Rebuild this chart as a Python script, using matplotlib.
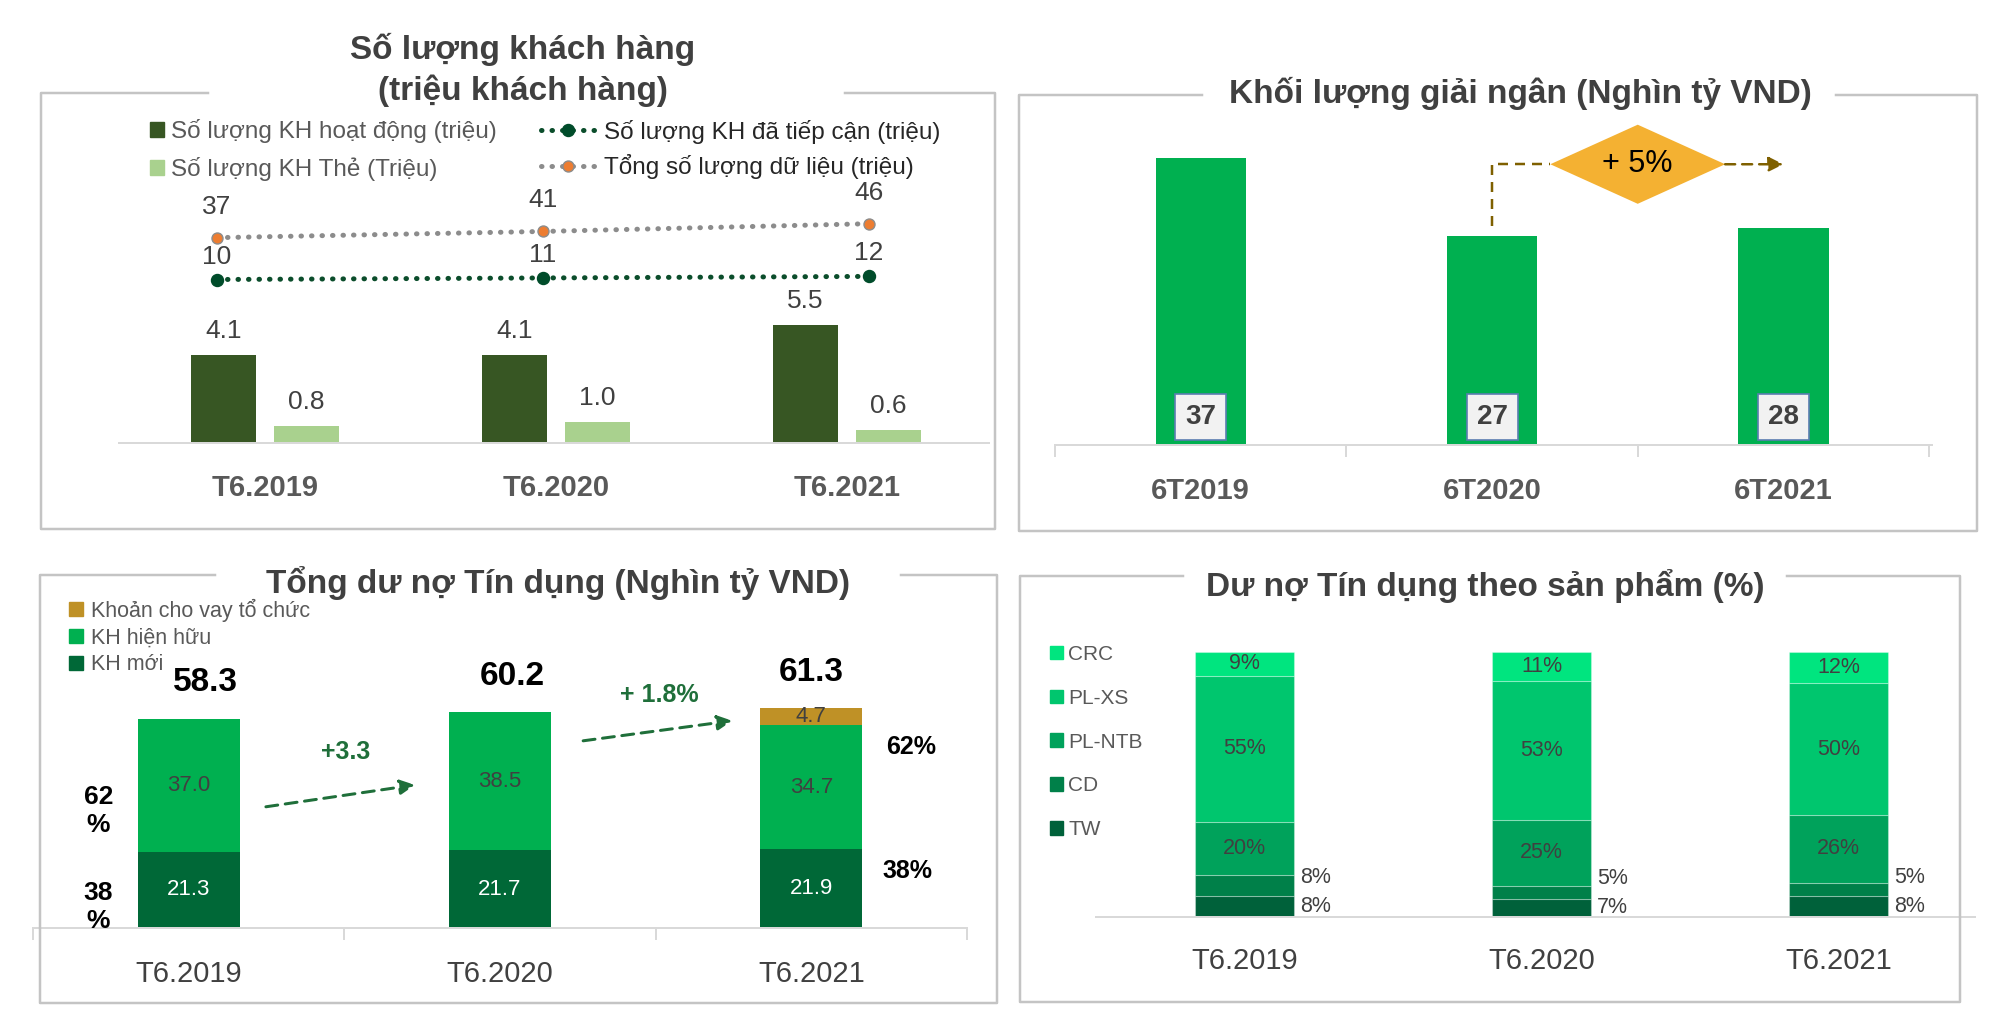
"""Four-panel customer / credit dashboard (Vietnamese labels) -> out.png"""

import matplotlib

matplotlib.use("Agg")
import matplotlib.pyplot as plt
import numpy as np
from matplotlib.lines import Line2D
from matplotlib.patches import Patch, Polygon

plt.rcParams["font.family"] = ["Liberation Sans", "DejaVu Sans"]

W, H = 2000, 1009

# --- panel 1: number of customers (million)
CUST_YEARS = ["T6.2019", "T6.2020", "T6.2021"]
ACTIVE = [4.1, 4.1, 5.5]
CARD = [0.8, 1.0, 0.6]
REACHED = [10, 11, 12]
TOTAL_DATA = [37, 41, 46]

# --- panel 2: disbursement (thousand bn VND)
DISB_YEARS = ["6T2019", "6T2020", "6T2021"]
DISBURSED = [37, 27, 28]
DISB_GROWTH = "+ 5%"

# --- panel 3: total outstanding credit (thousand bn VND)
LOAN_YEARS = ["T6.2019", "T6.2020", "T6.2021"]
NEW_CUST = [21.3, 21.7, 21.9]
EXISTING = [37.0, 38.5, 34.7]
ORG_LOANS = [0.0, 0.0, 4.7]
LOAN_TOTAL = [58.3, 60.2, 61.3]
SHARE_EXISTING = 62
SHARE_NEW = 38
LOAN_GROWTH = ["+3.3", "+ 1.8%"]

# --- panel 4: credit by product (%)
PROD_YEARS = ["T6.2019", "T6.2020", "T6.2021"]
PRODUCTS = ["TW", "CD", "PL-NTB", "PL-XS", "CRC"]   # bottom -> top
TW = [8, 7, 8]
CD = [8, 5, 5]
PL_NTB = [20, 25, 26]
PL_XS = [55, 53, 50]
CRC = [9, 11, 12]

FRAME = "#C4C4C4"
AXIS = "#D9D9D9"
TITLE = "#404040"
TXT = "#404040"
LEG = "#595959"
PROD_COLORS = ["#00613A", "#008049", "#00A25B", "#00C66E", "#00E57F"]

fig = plt.figure(figsize=(W / 100, H / 100), dpi=100)


def pt(px):
    return px * 0.72


def px_axes(x0, y0, x1, y1):
    return fig.add_axes([x0 / W, 1 - y1 / H, (x1 - x0) / W, (y1 - y0) / H])


def frame(x0, y0, x1, y1, gap0, gap1):
    xs = [gap0, x0, x0, x1, x1, gap1]
    ys = [y0, y0, y1, y1, y0, y0]
    fig.add_artist(Line2D([v / W for v in xs], [1 - v / H for v in ys],
                          color=FRAME, lw=pt(2.5)))


def title(x, y, text, size=24, spacing=1.2):
    fig.text(x / W, 1 - y / H, text, ha="center", va="center", fontsize=size,
             weight="bold", color=TITLE, linespacing=spacing)


def base_axis(ax, labels, pad_px, size, bold, bounds=None):
    for s in ("top", "left", "right"):
        ax.spines[s].set_visible(False)
    ax.spines["bottom"].set_color(AXIS)
    ax.spines["bottom"].set_linewidth(pt(2))
    ax.set_yticks([])
    ax.set_xticks(range(len(labels)))
    ax.set_xticklabels(labels, fontsize=size, color=LEG if bold else TXT,
                       weight="bold" if bold else "normal")
    ax.tick_params(axis="x", which="major", length=0, pad=pt(pad_px))
    if bounds is not None:
        ax.set_xticks(bounds, minor=True)
        ax.tick_params(axis="x", which="minor", length=pt(12), width=pt(2),
                       color=AXIS)
    ax.patch.set_alpha(0)


x = np.arange(3)

# ================= panel 1 =================
frame(41, 93, 995, 529, 208, 845)
title(523, 70, "Số lượng khách hàng\n(triệu khách hàng)", spacing=1.3)

ax1 = px_axes(119, 229, 989, 443)
ax1.bar(x - 0.143, ACTIVE, 0.223, color="#375623")
ax1.bar(x + 0.143, CARD, 0.223, color="#A9D18E")
ax1.set_xlim(-0.502, 2.488)
ax1.set_ylim(0, 10)
base_axis(ax1, CUST_YEARS, 31, 21, True)
for xs, vals in ((x - 0.143, ACTIVE), (x + 0.143, CARD)):
    for xi, v in zip(xs, vals):
        ax1.annotate(f"{v:.1f}", (xi, v), xytext=(0, pt(24)),
                     textcoords="offset points", ha="center", va="center",
                     fontsize=19, color=TXT)

ax1b = px_axes(119, 202, 989, 295)
ax1b.set_xlim(-0.3006, 2.368)
ax1b.set_ylim(0, 60)
ax1b.axis("off")
dots = dict(linestyle=(0, (0.1, 2)), dash_capstyle="round", lw=pt(5))
ax1b.plot(x, TOTAL_DATA, color="#8C8C8C", marker="o", ms=pt(11),
          mfc="#ED7D31", mec="#8C8C8C", mew=1, **dots)
ax1b.plot(x, REACHED, color="#0B4D2B", marker="o", ms=pt(12),
          mfc="#004C2A", mec="#004C2A", **dots)
for xi, v in zip(x, TOTAL_DATA):
    ax1b.annotate(str(v), (xi, v), xytext=(0, pt(31)), textcoords="offset points",
                  ha="center", va="center", fontsize=19, color=TXT)
for xi, v in zip(x, REACHED):
    ax1b.annotate(str(v), (xi, v), xytext=(0, pt(23)), textcoords="offset points",
                  ha="center", va="center", fontsize=19, color=TXT)

fig.legend([Patch(color="#375623"), Patch(color="#A9D18E")],
           ["Số lượng KH hoạt động (triệu)", "Số lượng KH Thẻ (Triệu)"],
           loc="center left", bbox_to_anchor=(150 / W, 1 - 150 / H),
           frameon=False, fontsize=17.5, handlelength=0.58, handleheight=0.58,
           handletextpad=0.3, labelspacing=0.56, borderpad=0, borderaxespad=0,
           labelcolor=LEG)
fig.legend([Line2D([], [], color="#0B4D2B", marker="o", ms=pt(12), mfc="#004C2A",
                   mec="#004C2A", **dots),
            Line2D([], [], color="#8C8C8C", marker="o", ms=pt(11), mfc="#ED7D31",
                   mec="#8C8C8C", **dots)],
           ["Số lượng KH đã tiếp cận (triệu)", "Tổng số lượng dữ liệu (triệu)"],
           loc="center left", bbox_to_anchor=(541 / W, 1 - 149.5 / H),
           frameon=False, fontsize=17.5, handlelength=2.2, numpoints=1,
           handletextpad=0.4, labelspacing=0.44, borderpad=0, borderaxespad=0,
           labelcolor="#262626")

# ================= panel 2 =================
frame(1019, 95, 1977, 531, 1202, 1836)
title(1520, 93, "Khối lượng giải ngân (Nghìn tỷ VND)")

ax2 = px_axes(1055, 96, 1932, 445)
ax2.bar(x, DISBURSED, 0.31, color="#00B050")
ax2.set_xlim(-0.5, 2.51)
ax2.set_ylim(0, 45)
base_axis(ax2, DISB_YEARS, 32, 21, True, bounds=[-0.5, 0.5, 1.5, 2.5])
for xi, v in zip(x, DISBURSED):
    ax2.annotate(str(v), (xi, 0), xytext=(0, pt(28)), textcoords="offset points",
                 ha="center", va="center", fontsize=20, weight="bold", color=TXT,
                 bbox=dict(boxstyle="square,pad=0.36", fc="#F2F2F2",
                           ec="#5B7DB1", lw=1.2))

level, half_w, half_h = 36.2, 0.30, 5.1
brown = "#7F6000"
dash = (0, (4, 2.8))
ax2.plot([1, 1, 1.5 - half_w], [DISBURSED[1] + 1.3, level, level], color=brown,
         lw=pt(2.5), linestyle=dash)
ax2.add_patch(Polygon([(1.5 - half_w, level), (1.5, level + half_h),
                       (1.5 + half_w, level), (1.5, level - half_h)],
                      closed=True, fc="#F4B132", ec="none"))
ax2.text(1.5, level, DISB_GROWTH, ha="center", va="center", fontsize=22,
         color="black")
ax2.annotate("", xy=(2, level), xytext=(1.5 + half_w, level),
             arrowprops=dict(arrowstyle="-|>", linestyle=dash, color=brown,
                             lw=pt(2.5), shrinkA=0, shrinkB=0, mutation_scale=22))

# ================= panel 3 =================
frame(40, 575, 997, 1003, 215, 901)
title(558, 583, "Tổng dư nợ Tín dụng (Nghìn tỷ VND)")

ax3 = px_axes(33, 677, 967, 928)
bw = 0.328
mid = np.add(NEW_CUST, EXISTING)
ax3.bar(x, NEW_CUST, bw, color="#006837")
ax3.bar(x, EXISTING, bw, bottom=NEW_CUST, color="#00B050")
ax3.bar(x, ORG_LOANS, bw, bottom=mid, color="#BF9126")
ax3.set_xlim(-0.5, 2.5)
ax3.set_ylim(0, 70)
base_axis(ax3, LOAN_YEARS, 32, 21, False, bounds=[-0.5, 0.5, 1.5, 2.5])
total_shift = [0.055, 0.04, 0.0]   # labels sit a bit right of the bar centre
for i in x:
    ax3.text(i, NEW_CUST[i] / 2, f"{NEW_CUST[i]:.1f}", ha="center", va="center",
             fontsize=16, color="white")
    ax3.text(i, NEW_CUST[i] + EXISTING[i] / 2, f"{EXISTING[i]:.1f}", ha="center",
             va="center", fontsize=16, color=TXT)
    if ORG_LOANS[i] > 0:
        ax3.text(i, mid[i] + ORG_LOANS[i] / 2, f"{ORG_LOANS[i]:.1f}", ha="center",
                 va="center", fontsize=16, color=TXT)
    ax3.annotate(f"{LOAN_TOTAL[i]:.1f}", (i + total_shift[i], LOAN_TOTAL[i]),
                 xytext=(0, pt(36)), textcoords="offset points", ha="center",
                 va="center", fontsize=24, weight="bold", color="black",
                 annotation_clip=False)

# share labels, first and last bar
ax3.text(-0.29, NEW_CUST[0] + EXISTING[0] / 2, f"{SHARE_EXISTING}\n%", ha="center",
         va="top", fontsize=19, weight="bold", linespacing=1.2)
ax3.text(-0.29, NEW_CUST[0] / 2 + 2.5, f"{SHARE_NEW}\n%", ha="center", va="top",
         fontsize=19, weight="bold", linespacing=1.2, clip_on=False)
ax3.text(2.32, mid[2] - 6, f"{SHARE_EXISTING}%", ha="center", va="center",
         fontsize=18, weight="bold")
ax3.text(2.31, NEW_CUST[2] - 6, f"{SHARE_NEW}%", ha="center", va="center",
         fontsize=18, weight="bold")

green = "#1F6F3A"
arrows = [((0.248, 33.8), (0.727, 39.9), (0.505, 49.1)),
          ((1.267, 52.2), (1.746, 57.8), (1.511, 65.0))]
for (start, end, lab), txt in zip(arrows, LOAN_GROWTH):
    ax3.annotate("", xy=end, xytext=start,
                 arrowprops=dict(arrowstyle="-|>", linestyle=(0, (4, 2.5)),
                                 color=green, lw=pt(3), shrinkA=0, shrinkB=0,
                                 mutation_scale=22))
    ax3.text(*lab, txt, ha="center", va="center", fontsize=18, weight="bold",
             color=green)

fig.legend([Patch(color="#BF9126"), Patch(color="#00B050"), Patch(color="#006837")],
           ["Khoản cho vay tổ chức", "KH hiện hữu", "KH mới"],
           loc="center left", bbox_to_anchor=(69 / W, 1 - 637 / H),
           frameon=False, fontsize=15.5, handlelength=0.63, handleheight=0.63,
           handletextpad=0.37, labelspacing=0.27, borderpad=0, borderaxespad=0,
           labelcolor=LEG)

# ================= panel 4 =================
frame(1020, 576, 1960, 1002, 1183, 1787)
title(1485, 586, "Dư nợ Tín dụng theo sản phẩm (%)")

ax4 = px_axes(1096, 652, 1975, 917)
shares = np.array([TW, CD, PL_NTB, PL_XS, CRC], dtype=float)
heights = shares / shares.sum(axis=0) * 100
pw = 0.334
bottom = np.zeros(3)
for k, (raw, h, color) in enumerate(zip(shares, heights, PROD_COLORS)):
    ax4.bar(x, h, pw, bottom=bottom, color=color, edgecolor=(1, 1, 1, 0.3), lw=0.8)
    if k >= 2:
        for i in x:
            ax4.text(i, bottom[i] + h[i] / 2, f"{raw[i]:.0f}%", ha="center",
                     va="center", fontsize=15.5, color=TXT)
    bottom += h
for i in x:
    y_tw = heights[0][i] / 2
    ax4.text(i + pw / 2 + 0.02, y_tw, f"{TW[i]}%", ha="left", va="center",
             fontsize=15.5, color=TXT, clip_on=False)
    ax4.text(i + pw / 2 + 0.02, y_tw + 11, f"{CD[i]}%", ha="left", va="center",
             fontsize=15.5, color=TXT)
ax4.set_xlim(-0.5, 2.46)
ax4.set_ylim(0, 100)
base_axis(ax4, PROD_YEARS, 30, 21, False)

fig.legend([Patch(color=c) for c in PROD_COLORS[::-1]], PRODUCTS[::-1],
           loc="center left", bbox_to_anchor=(1050 / W, 1 - 742 / H),
           frameon=False, fontsize=15, handlelength=0.62, handleheight=0.62,
           handletextpad=0.25, labelspacing=1.19, borderpad=0, borderaxespad=0,
           labelcolor=LEG)

fig.savefig("out.png", dpi=100)
